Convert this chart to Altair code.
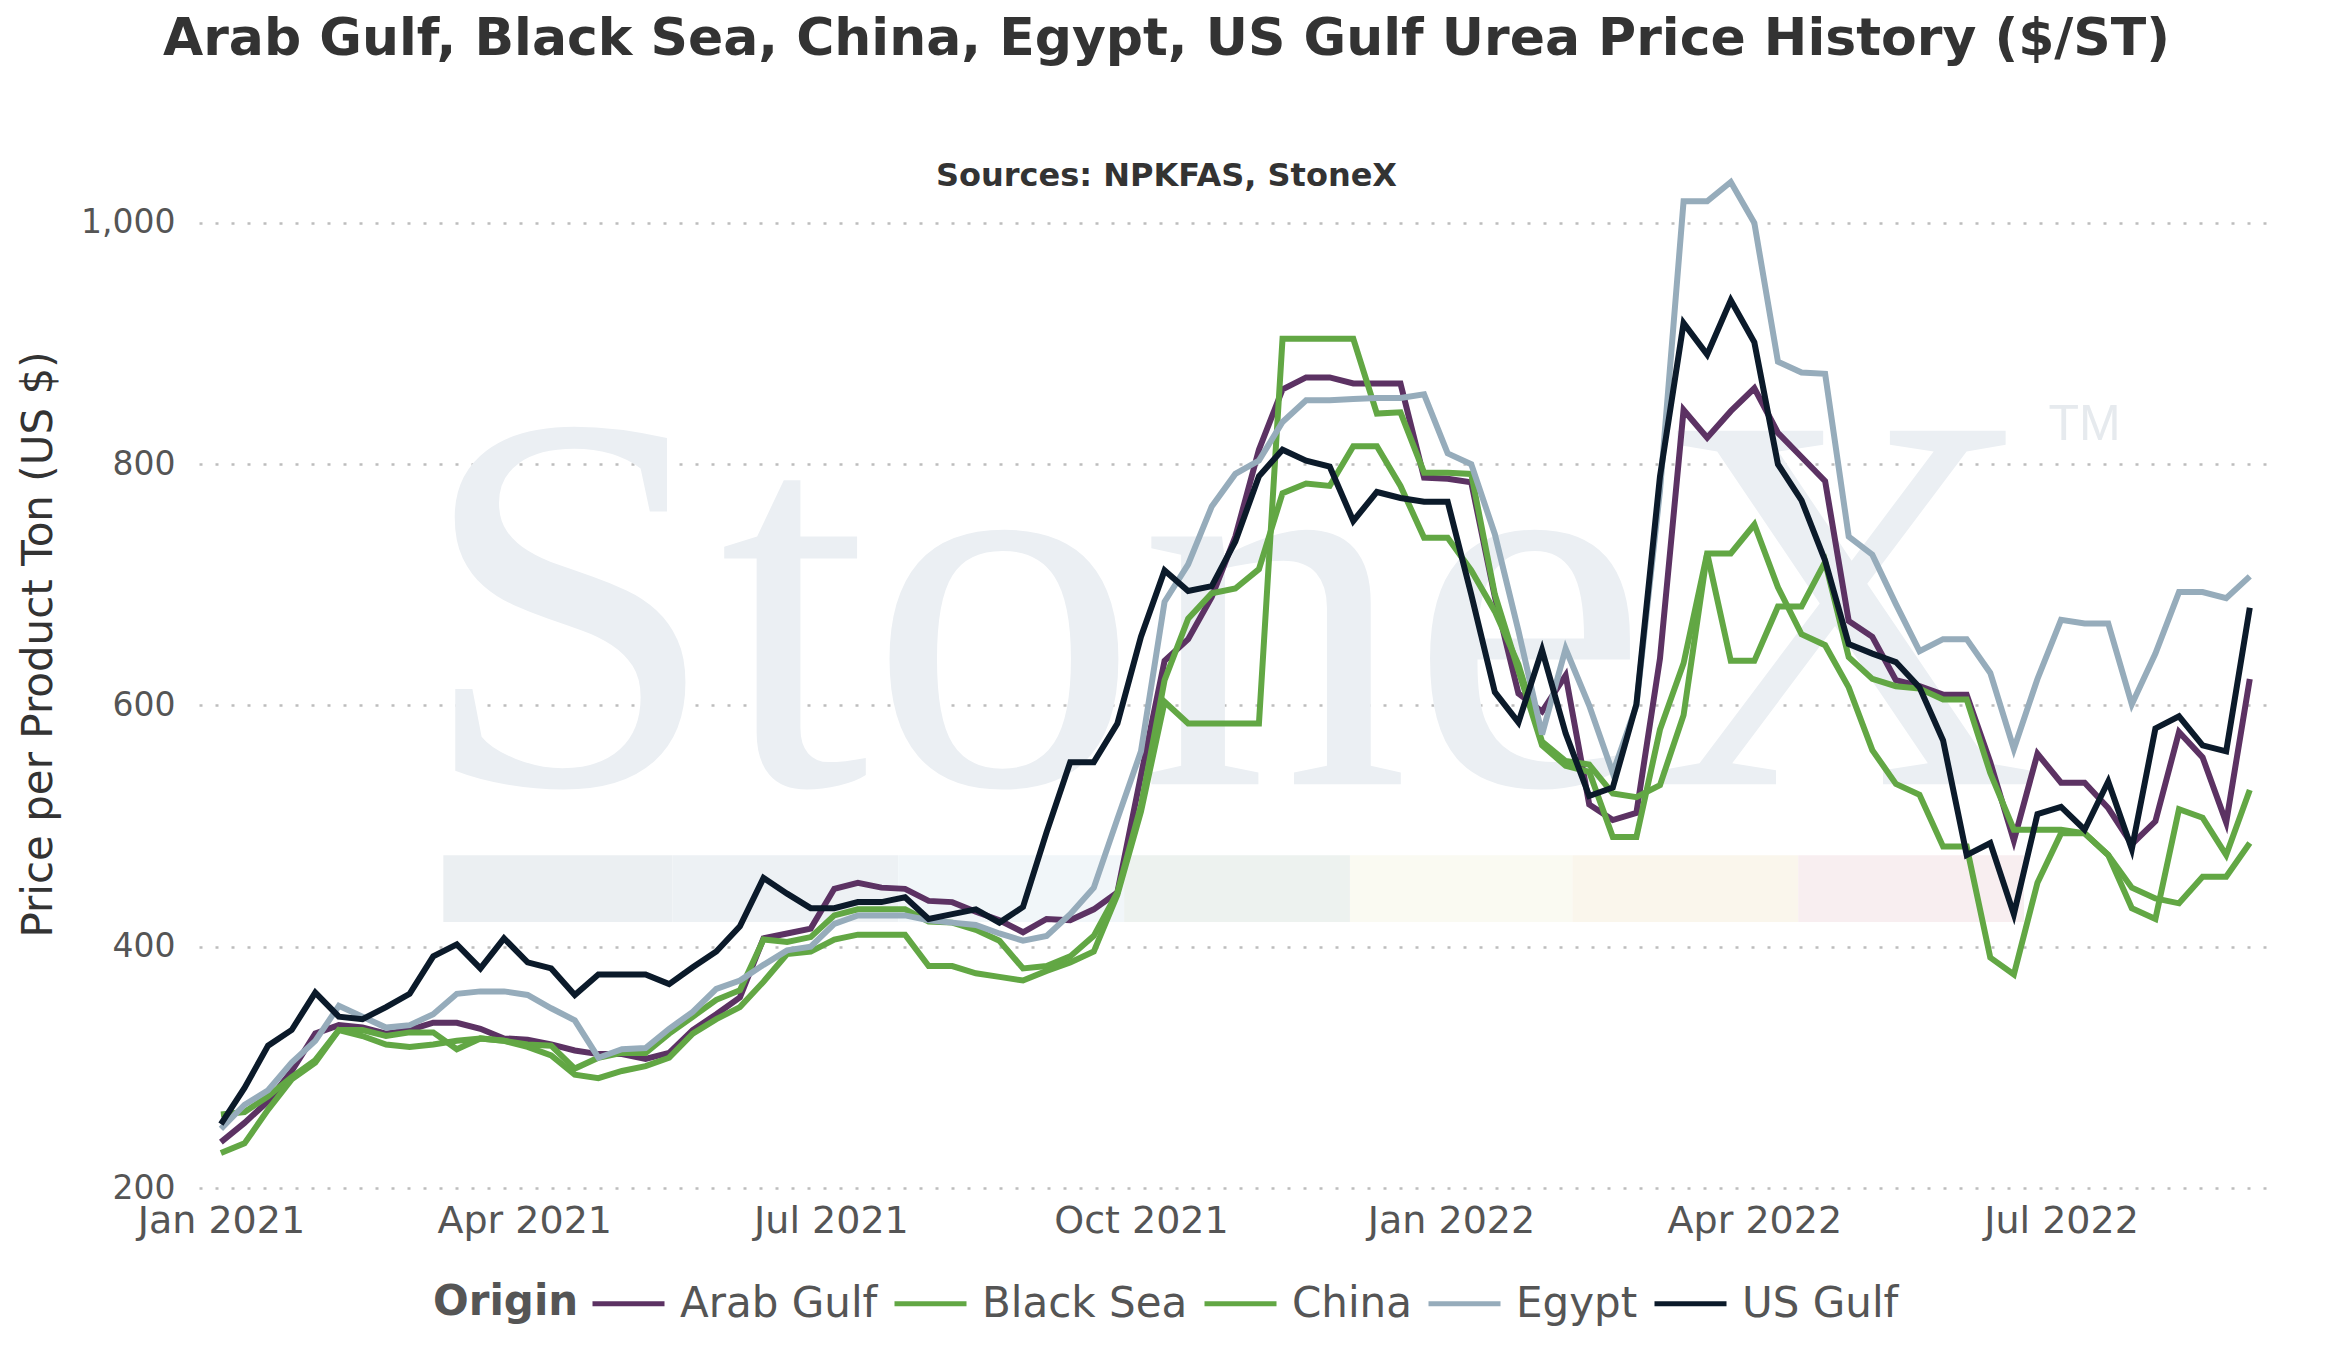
import pandas as pd
import altair as alt

# weekly urea price assessments ($/short ton), Fridays from 1 Jan 2021
first_week = "2021-01-01"
n_weeks = 87
weeks = pd.date_range(first_week, periods=n_weeks, freq="7D")

origins = ["Arab Gulf", "Black Sea", "China", "Egypt", "US Gulf"]
colors = ["#5c3263", "#62a744", "#62a744", "#96acbb", "#0b1a2a"]

arab_gulf = [238, 254, 272, 297, 328, 335, 333, 328, 331, 337,
             337, 332, 324, 323, 319, 314, 311, 311, 307, 312,
             331, 344, 358, 407, 411, 415, 448, 453, 449, 448,
             438, 437, 429, 422, 412, 423, 422, 431, 445, 542,
             637, 655, 690, 740, 812, 862, 872, 872, 867, 867,
             867, 789, 788, 785, 690, 610, 595, 625, 518, 505,
             511, 639, 845, 822, 844, 863, 826, 806, 786, 670,
             657, 621, 616, 609, 609, 553, 488, 560, 536, 536,
             515, 485, 504, 578, 557, 503, 622]
black_sea = [261, 263, 276, 292, 306, 331, 331, 326, 329, 329,
             315, 324, 322, 319, 318, 299, 308, 312, 312, 328,
             342, 356, 364, 406, 404, 408, 426, 431, 431, 431,
             421, 420, 414, 405, 382, 384, 392, 409, 445, 517,
             621, 672, 693, 697, 713, 776, 784, 782, 815, 815,
             782, 739, 739, 712, 678, 634, 570, 554, 551, 527,
             524, 534, 592, 726, 726, 750, 698, 659, 650, 615,
             563, 535, 526, 483, 483, 391, 377, 453, 494, 494,
             476, 432, 423, 514, 507, 476, 530]
china = [229, 237, 265, 290, 304, 331, 326, 319, 317, 319,
         322, 324, 322, 317, 310, 294, 291, 297, 301, 308,
         328, 340, 350, 371, 394, 396, 406, 410, 410, 410,
         384, 384, 378, 375, 372, 380, 387, 396, 443, 512,
         603, 585, 585, 585, 585, 904, 904, 904, 904, 842,
         843, 793, 793, 792, 692, 629, 567, 550, 545, 491,
         491, 580, 635, 726, 637, 637, 682, 682, 719, 640,
         622, 616, 614, 605, 605, 544, 497, 497, 497, 494,
         476, 449, 440, 436, 458, 458, 486]
egypt = [249, 269, 281, 304, 322, 351, 342, 333, 335, 344,
         361, 363, 363, 360, 349, 339, 308, 315, 316, 332,
         346, 365, 372, 385, 397, 400, 419, 426, 426, 426,
         422, 420, 418, 411, 405, 409, 427, 449, 506, 562,
         686, 717, 765, 792, 803, 835, 853, 853, 854, 855,
         855, 858, 809, 800, 742, 662, 576, 647, 600, 544,
         600, 778, 1018, 1018, 1034, 1000, 885, 876, 875, 740,
         725, 684, 645, 655, 655, 627, 564, 622, 671, 668,
         668, 601, 643, 694, 694, 689, 707]
us_gulf = [253, 283, 318, 331, 362, 342, 340, 350, 361, 392,
           402, 382, 407, 387, 382, 360, 377, 377, 377, 369,
           383, 396, 417, 457, 444, 432, 432, 437, 437, 441,
           423, 427, 431, 420, 433, 495, 553, 553, 585, 657,
           712, 695, 699, 736, 790, 812, 803, 798, 753, 777,
           772, 769, 769, 692, 611, 586, 646, 577, 525, 532,
           601, 790, 917, 891, 936, 901, 800, 770, 720, 651,
           643, 636, 615, 571, 476, 486, 427, 510, 516, 497,
           537, 481, 581, 591, 567, 562, 681]

series = [arab_gulf, black_sea, china, egypt, us_gulf]

# x axis ticks (quarter starts)
tick_years = [2021, 2021, 2021, 2021, 2022, 2022, 2022]
tick_months = [1, 4, 7, 10, 1, 4, 7]
y_ticks = [200, 400, 600, 800, 1000]

# faint StoneX watermark behind the lines
wm_band_start = ["2021-03-08", "2021-05-15", "2021-07-21", "2021-09-26",
                 "2021-12-02", "2022-02-06", "2022-04-14"]
wm_band_end = ["2021-05-15", "2021-07-21", "2021-09-26", "2021-12-02",
               "2022-02-06", "2022-04-14", "2022-06-20"]
wm_band_fill = ["#ebeff2", "#edf1f4", "#f1f6f9", "#edf2ef",
                "#fafaf2", "#faf6ec", "#f8eef0"]

rows = []
for name, vals in zip(origins, series):
    for wk, v in zip(weeks, vals):
        rows.append({"week": wk, "price": v, "origin": name})
df = pd.DataFrame(rows)

bands = pd.DataFrame({
    "week": pd.to_datetime(wm_band_start),
    "week_end": pd.to_datetime(wm_band_end),
    "price": [420.5] * len(wm_band_start),
    "price_top": [475.8] * len(wm_band_start),
    "shade": wm_band_fill,
})
logo = pd.DataFrame({"week": [pd.Timestamp("2021-10-27")], "price": [534.7], "txt": ["StoneX"]})
tm = pd.DataFrame({"week": [pd.Timestamp("2022-07-08")], "price": [820], "txt": ["TM"]})

x_scale = alt.Scale(domain=[alt.DateTime(year=2020, month=12, date=25, hours=12),
                            alt.DateTime(year=2022, month=9, date=1)])
y_scale = alt.Scale(domain=[200, 1040.6], nice=False, zero=False)

x_axis = alt.Axis(values=[alt.DateTime(year=y, month=m, date=1) for y, m in zip(tick_years, tick_months)],
                  format="%b %Y", labelFont="DejaVu Sans", labelFontSize=38, labelColor="#555555",
                  labelPadding=14, grid=False, domain=False, ticks=False, labelFlush=False)
y_axis = alt.Axis(values=y_ticks, format=",d", title="Price per Product Ton (US $)",
                  titleFont="DejaVu Sans", titleFontSize=42, titleFontWeight="normal",
                  titleColor="#333333", titlePadding=20, titleY=470,
                  labelFont="DejaVu Sans", labelFontSize=33, labelColor="#555555", labelPadding=24,
                  domain=False, ticks=False, grid=True, gridDash=[3, 13],
                  gridColor="#bdbdbd", gridWidth=2.5)

X = alt.X("week:T", scale=x_scale, axis=x_axis, title=None)
Y = alt.Y("price:Q", scale=y_scale, axis=y_axis, title="Price per Product Ton (US $)")

band_layer = alt.Chart(bands).mark_rect().encode(
    x=X, x2="week_end:T", y=Y, y2="price_top:Q",
    fill=alt.Fill("shade:N", scale=None),
)
logo_layer = alt.Chart(logo).mark_text(
    font="Liberation Serif", fontSize=540, color="#ebeff3", align="center", baseline="alphabetic"
).encode(x=X, y=Y, text="txt:N")
tm_layer = alt.Chart(tm).mark_text(
    font="Liberation Sans", fontSize=50, color="#e6eaee", align="center", baseline="alphabetic"
).encode(x=X, y=Y, text="txt:N")

lines = alt.Chart(df).mark_line(strokeWidth=6).encode(
    x=X,
    y=Y,
    color=alt.Color("origin:N", scale=alt.Scale(domain=origins, range=colors),
                    legend=alt.Legend(title="Origin", orient="none", legendX=234, legendY=1091,
                                      direction="horizontal", columns=5, titleOrient="left",
                                      symbolType="stroke", symbolSize=5184, symbolStrokeWidth=5,
                                      labelFont="DejaVu Sans", labelFontSize=42, labelColor="#555555",
                                      labelLimit=400, labelOffset=13, columnPadding=6,
                                      titleFont="DejaVu Sans", titleFontSize=42, titleFontWeight="bold",
                                      titleColor="#555555", titlePadding=11,
                                      titleBaseline="line-top", titleLineHeight=16)),
)

chart = alt.layer(band_layer, logo_layer, tm_layer, lines).properties(
    width=2071,
    height=1014,
    padding={"left": 191, "top": 166, "right": 60, "bottom": 157},
    autosize=alt.AutoSizeParams(type="none"),
    background="white",
    title=alt.Title(
        "Arab Gulf, Black Sea, China, Egypt, US Gulf Urea Price History ($/ST)",
        subtitle="Sources: NPKFAS, StoneX",
        font="DejaVu Sans", fontSize=52, fontWeight="bold", color="#333333",
        subtitleFont="DejaVu Sans", subtitleFontSize=32, subtitleFontWeight="bold",
        subtitleColor="#333333", subtitlePadding=95, anchor="middle", dx=-68, offset=-23,
    ),
).configure_view(strokeWidth=0, stroke="transparent")

chart.save("out.html", embed_options={"renderer": "svg", "actions": False})
